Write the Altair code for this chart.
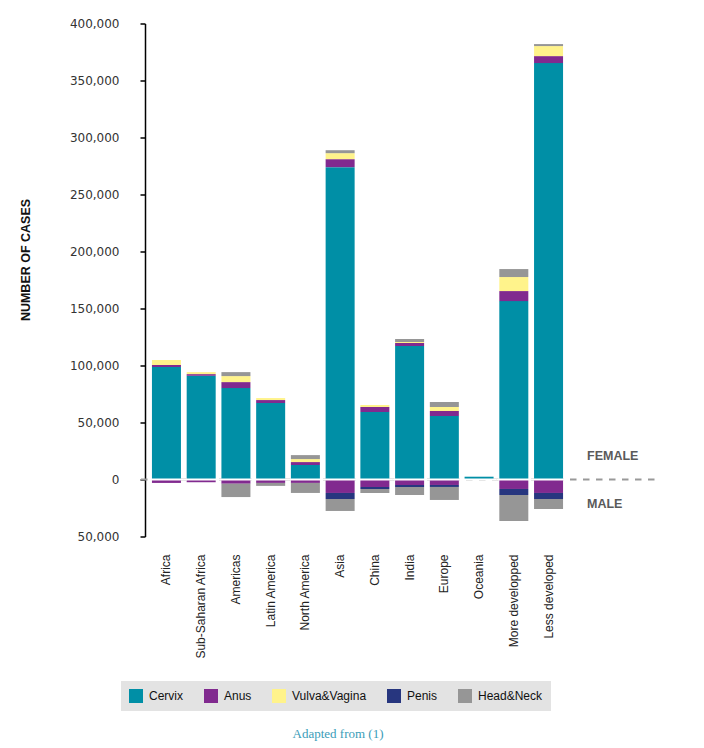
import altair as alt
import pandas as pd

regions = ["Africa", "Sub-Saharan Africa", "Americas", "Latin America", "North America",
           "Asia", "China", "India", "Europe", "Oceania", "More developped", "Less developed"]

sites = ["Cervix", "Anus", "Vulva&Vagina", "Penis", "Head&Neck"]
site_colors = ["#008fa6", "#812a8f", "#fff38b", "#27367f", "#969696"]

# Female cases by site
cervix_f = [98700, 91000, 80200, 67100, 12700, 274000, 59200, 117100, 55700, 2450, 156500, 365300]
anus_f = [1750, 1450, 5250, 2600, 2600, 7000, 4400, 2600, 4400, 0, 8800, 6100]
vulva_f = [4400, 1750, 5250, 1750, 2600, 5250, 1750, 900, 3500, 0, 12300, 8800]
headneck_f = [0, 0, 3500, 0, 3500, 2600, 0, 2600, 4400, 0, 7000, 1750]

# Male cases by site (drawn below zero)
anus_m = [3000, 2400, 3700, 3000, 3000, 11800, 6600, 4800, 4800, 0, 8300, 11800]
penis_m = [0, 0, 0, 0, 0, 5300, 1750, 1750, 1750, 0, 5300, 5300]
headneck_m = [0, 0, 11700, 2600, 8800, 10500, 3500, 7000, 11400, 0, 22800, 8800]

y_ticks = list(range(-50000, 400001, 50000))

series = [
    ("Cervix", cervix_f, 1),
    ("Anus", anus_f, 1),
    ("Vulva&Vagina", vulva_f, 1),
    ("Head&Neck", headneck_f, 1),
    ("Anus", anus_m, -1),
    ("Penis", penis_m, -1),
    ("Head&Neck", headneck_m, -1),
]
rows = []
for site, values, sign in series:
    for region, v in zip(regions, values):
        if v:
            rows.append({"region": region, "site": site, "cases": sign * v,
                         "rank": sites.index(site)})
df = pd.DataFrame(rows)

x_scale = alt.Scale(range=[0, 425], paddingInner=0.165, paddingOuter=0.2)
y_scale = alt.Scale(domain=[-50000, 400000], nice=False)

y_axis = alt.Axis(
    values=y_ticks, labelExpr="format(abs(datum.value), ',')",
    title="NUMBER OF CASES", titleFont="Liberation Sans", titleFontSize=12.5,
    titleFontWeight="bold", titleColor="#111111", titleAngle=270,
    titleX=-120, titleY=236, titleAlign="center", titleBaseline="middle",
    domainColor="#000000", domainWidth=1.5, tickColor="#000000", tickWidth=1.5,
    tickSize=5, labelFont="DejaVu Sans", labelFontSize=12, labelColor="#333333",
    labelPadding=21, grid=False,
)
x_axis = alt.Axis(
    title=None, labelAngle=-90, labelFont="Liberation Sans", labelFontSize=12,
    labelColor="#222222", domain=False, ticks=False, labelPadding=17.5,
)

legend = alt.Legend(
    title=None, orient="none", legendX=-24, legendY=657.5, direction="horizontal",
    fillColor="#e3e3e3", padding=8, symbolType="square", symbolSize=196,
    symbolStrokeWidth=0, symbolOpacity=1, labelFont="Liberation Sans",
    labelFontSize=12, labelColor="#111111", labelOffset=6, columnPadding=20,
)

# dashed female/male divider
zero_line = alt.Chart(pd.DataFrame({"cases": [0]})).mark_rule(
    color="#999999", strokeWidth=2, strokeDash=[6.5, 6.5], clip=False
).encode(y=alt.Y("cases:Q"), x=alt.value(-4), x2=alt.value(513))

bars = alt.Chart(df).mark_bar(opacity=1).encode(
    x=alt.X("region:N", sort=regions, scale=x_scale, axis=x_axis),
    y=alt.Y("cases:Q", stack="zero", scale=y_scale, axis=y_axis),
    color=alt.Color("site:N", scale=alt.Scale(domain=sites, range=site_colors), legend=legend),
    order=alt.Order("rank:Q"),
)

# white gap separating the female and male stacks
gap = alt.Chart(pd.DataFrame({"region": regions, "cases": [0] * len(regions)})).mark_tick(
    color="white", thickness=2, size=35, orient="horizontal", opacity=1
).encode(x=alt.X("region:N", sort=regions), y=alt.Y("cases:Q"))

sex_labels = alt.Chart(pd.DataFrame({"label": ["FEMALE", "MALE"], "cases": [21000, -21500]})).mark_text(
    align="left", baseline="middle", font="Liberation Sans", fontWeight="bold",
    fontSize=12.5, color="#5a5a5a"
).encode(x=alt.value(442), y=alt.Y("cases:Q"), text="label:N")

source = alt.Chart(pd.DataFrame({"note": ["Adapted from (1)"]})).mark_text(
    align="center", baseline="middle", font="Liberation Serif", fontSize=13, color="#3a9cb8"
).encode(x=alt.value(193), y=alt.value(710.5), text="note:N")

chart = alt.layer(zero_line, bars, gap, sex_labels, source).properties(
    width=520, height=513,
    autosize=alt.AutoSizeParams(type="none"),
    padding={"left": 145, "top": 23.5, "right": 39, "bottom": 211.5},
    background="white",
).configure_view(stroke=None)

chart.save("out.html", embed_options={"renderer": "svg", "actions": False})
